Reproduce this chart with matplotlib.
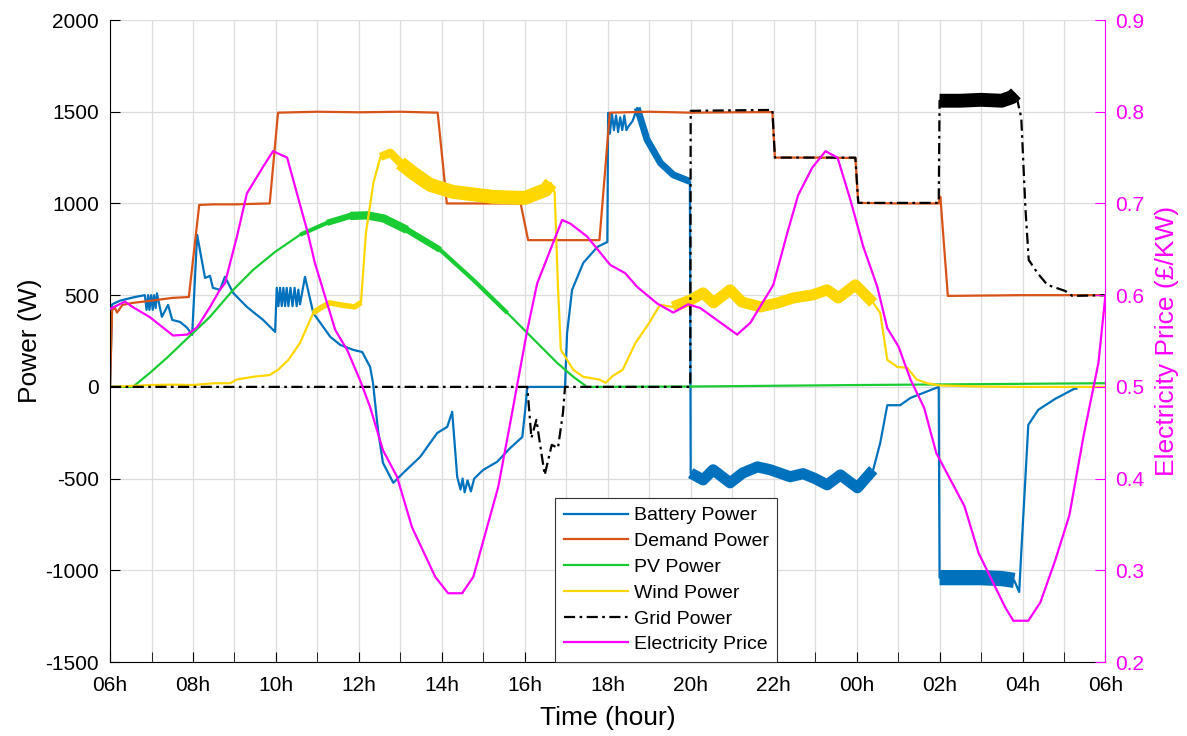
import numpy as np
import matplotlib.pyplot as plt

plt.rcParams['font.family'] = ['Liberation Sans', 'DejaVu Sans']
plt.rcParams['axes.unicode_minus'] = False

# time in hours from 06h (6) to 06h next day (30)
bat_t = [6.00, 6.05, 6.24, 6.60, 6.84, 6.88, 6.92, 6.95, 6.99, 7.03, 7.06, 7.10, 7.13,
         7.25, 7.40, 7.50, 7.69, 7.86, 7.98, 8.10, 8.29, 8.41, 8.48, 8.65, 8.77, 8.97,
         9.30, 9.69, 9.98, 10.02, 10.06, 10.10, 10.14, 10.18, 10.22, 10.26, 10.30, 10.35,
         10.40, 10.45, 10.50, 10.54, 10.58, 10.70, 10.90, 11.07, 11.31, 11.55, 11.86,
         12.08, 12.27, 12.34, 12.46, 12.58, 12.83, 13.07, 13.48, 13.89, 14.13, 14.25,
         14.37, 14.45, 14.50, 14.55, 14.62, 14.70, 14.78, 15.00, 15.33, 15.65, 15.94,
         16.01, 16.06, 16.97, 17.02, 17.14, 17.41, 17.75, 17.99, 18.01, 18.05, 18.10,
         18.15, 18.20, 18.25, 18.30, 18.35, 18.40, 18.45, 18.50, 18.60, 18.71, 18.95,
         19.27, 19.58, 19.98, 20.00, 20.30, 20.54, 20.95, 21.25, 21.61, 21.92, 22.40,
         22.71, 23.00, 23.29, 23.61, 24.02, 24.40, 24.57, 24.74, 25.05, 25.30, 25.87,
         25.98, 26.00, 26.50, 27.00, 27.50, 27.80, 27.92, 27.97, 28.14, 28.38, 28.79,
         29.25, 29.30]
bat_w = [0, 450, 470, 490, 500, 420, 500, 420, 500, 420, 500, 430, 510,
         382, 447, 365, 354, 322, 284, 829, 594, 605, 540, 529, 600, 512,
         436, 365, 300, 540, 440, 540, 440, 540, 440, 540, 440, 540,
         440, 540, 440, 530, 450, 600, 403, 349, 273, 229, 202,
         190, 109, 22, -234, -414, -523, -469, -381, -251, -218, -136,
         -490, -560, -500, -575, -510, -570, -500, -452, -409, -333, -273,
         -125, 0, 0, 294, 529, 676, 763, 790, 1494, 1380, 1490,
         1400, 1480, 1390, 1470, 1400, 1480, 1400, 1420, 1450, 1521, 1347,
         1221, 1156, 1120, -470, -507, -452, -523, -470, -436, -452, -490,
         -473, -500, -534, -480, -550, -452, -305, -100, -100, -60, -10,
         0, -1040, -1040, -1040, -1045, -1055, -1118, -905, -207, -125, -65,
         -10, -10]

dem_t = [6.00, 6.05, 6.12, 6.17, 6.30, 6.55, 7.00, 7.50, 7.90, 8.15, 8.50, 9.00, 9.50,
         9.85, 10.05, 11.0, 12.0, 13.0, 13.90, 14.12, 15.0, 15.90, 16.08, 17.0, 17.80,
         18.05, 19.0, 20.0, 21.0, 21.97, 22.03, 23.0, 23.97, 24.04, 25.0, 25.98, 26.02,
         26.20, 28.0, 30.0]
dem_w = [0, 420, 430, 405, 447, 458, 470, 485, 490, 992, 995, 995, 998,
         1000, 1495, 1500, 1497, 1500, 1495, 1000, 1000, 1000, 800, 800, 800,
         1495, 1500, 1495, 1497, 1498, 1250, 1250, 1248, 1003, 1000, 1000, 1036,
         496, 500, 500]

pv_t = [6.00, 6.55, 6.96, 7.37, 8.00, 8.41, 8.97, 9.45, 9.98, 10.58, 11.23, 11.79, 12.20,
        12.60, 13.16, 13.96, 14.76, 15.58, 16.06, 16.78, 17.17, 17.50, 20.0, 24.0, 30.0]
pv_w = [0, 0, 76, 158, 294, 382, 529, 638, 736, 829, 894, 932, 935,
        918, 856, 747, 583, 403, 294, 131, 55, 0, 2, 10, 20]

wind_t = [6.0, 6.5, 7.0, 7.5, 8.0, 8.5, 8.9, 9.05, 9.45, 9.85, 10.05, 10.30, 10.58, 10.90,
          11.07, 11.30, 11.55, 11.90, 12.05, 12.17, 12.35, 12.52, 12.76, 13.0, 13.30,
          13.72, 14.27, 15.23, 16.0, 16.50, 16.63, 16.72, 16.80, 16.87, 17.17, 17.41,
          17.80, 17.95, 18.12, 18.36, 18.67, 19.0, 19.26, 19.57, 20.0, 20.30, 20.55,
          20.95, 21.23, 21.68, 22.10, 22.48, 22.95, 23.29, 23.56, 23.97, 24.40, 24.57,
          24.74, 24.98, 25.22, 25.45, 25.70, 26.0, 27.0, 28.0, 30.0]
wind_w = [0, 5, 10, 12, 10, 20, 20, 40, 55, 65, 93, 147, 240, 403,
          430, 458, 447, 436, 460, 840, 1112, 1254, 1276, 1221, 1167,
          1101, 1063, 1036, 1030, 1074, 1112, 1060, 545, 202, 93, 55,
          40, 22, 60, 93, 240, 349, 447, 436, 474, 512, 458,
          529, 463, 436, 458, 485, 502, 529, 485, 556, 458, 403,
          147, 109, 104, 40, 20, 8, 2, 0, 0]

grid_t = [6.0, 16.06, 16.16, 16.28, 16.48, 16.65, 16.80, 16.92, 16.97, 19.99, 20.00,
          21.97, 22.03, 23.97, 24.04, 25.98, 26.00, 26.50, 27.00, 27.50, 27.75, 27.84,
          27.97, 28.07, 28.15, 28.36, 28.60, 29.03, 29.20, 30.0]
grid_w = [0, 0, -278, -180, -480, -316, -333, -142, 0, 0, 1505,
          1510, 1250, 1250, 1003, 1003, 1560, 1560, 1565, 1560, 1580, 1600,
          1467, 976, 692, 621, 556, 523, 496, 500]

price_t = [6.00, 6.36, 6.55, 6.96, 7.52, 7.86, 8.10, 8.41, 8.65, 8.77, 9.06, 9.30, 9.69,
           9.93, 10.27, 10.53, 10.75, 10.94, 11.43, 11.72, 12.03, 12.27, 12.58, 12.92,
           13.28, 13.84, 14.15, 14.49, 14.76, 15.36, 15.65, 16.06, 16.30, 16.90, 17.10,
           17.50, 18.06, 18.42, 18.71, 19.19, 19.58, 19.94, 20.23, 21.12, 21.44, 21.99,
           22.33, 22.59, 22.93, 23.25, 23.54, 23.85, 24.16, 24.50, 24.74, 25.01, 25.30,
           25.63, 25.92, 26.60, 26.94, 27.59, 27.78, 28.14, 28.43, 28.79, 29.13, 29.47,
           29.83, 30.0]
price = [0.585, 0.593, 0.587, 0.576, 0.556, 0.557, 0.565, 0.587, 0.606, 0.613, 0.664, 0.711,
         0.740, 0.757, 0.750, 0.707, 0.671, 0.635, 0.562, 0.540, 0.507, 0.478, 0.431, 0.402,
         0.347, 0.293, 0.275, 0.275, 0.293, 0.391, 0.461, 0.562, 0.613, 0.682, 0.678,
         0.664, 0.633, 0.624, 0.609, 0.591, 0.581, 0.590, 0.586, 0.557, 0.570, 0.611,
         0.668, 0.709, 0.739, 0.757, 0.750, 0.704, 0.653, 0.609, 0.564, 0.544, 0.508,
         0.477, 0.428, 0.370, 0.319, 0.259, 0.245, 0.245, 0.265, 0.311, 0.360, 0.446,
         0.526, 0.600]

c_bat, c_dem, c_pv, c_wind, c_grid, c_price = '#0072BD', '#D95319', '#1ACC33', '#FFD700', 'black', '#FF00FF'

fig = plt.figure(figsize=(11.87, 7.36), dpi=100)
ax = fig.add_axes([0.0927, 0.1005, 0.8386, 0.8723])


def band(t, v, t0, t1, color, lw):
    # thick segment where the signal ripples fast
    t = np.asarray(t)
    v = np.asarray(v)
    m = (t >= t0) & (t <= t1)
    ax.plot(t[m], v[m], color=color, lw=lw, solid_joinstyle='round', solid_capstyle='butt')


lw = 1.6
h_bat, = ax.plot(bat_t, bat_w, color=c_bat, lw=lw, label='Battery Power')
band(bat_t, bat_w, 18.7, 19.98, c_bat, 5)
band(bat_t, bat_w, 20.0, 24.4, c_bat, 8)
band(bat_t, bat_w, 26.0, 27.8, c_bat, 11)
h_dem, = ax.plot(dem_t, dem_w, color=c_dem, lw=lw, label='Demand Power')
h_pv, = ax.plot(pv_t, pv_w, color=c_pv, lw=lw, label='PV Power')
band(pv_t, pv_w, 10.5, 15.6, c_pv, 3)
band(pv_t, pv_w, 11.2, 14.0, c_pv, 4.5)
band(pv_t, pv_w, 11.7, 13.2, c_pv, 6)
h_wind, = ax.plot(wind_t, wind_w, color=c_wind, lw=lw, label='Wind Power')
band(wind_t, wind_w, 10.9, 12.05, c_wind, 4)
band(wind_t, wind_w, 12.5, 13.3, c_wind, 6)
band(wind_t, wind_w, 13.0, 16.63, c_wind, 10)
band(wind_t, wind_w, 19.5, 24.4, c_wind, 8)
h_grid, = ax.plot(grid_t, grid_w, color=c_grid, lw=lw, ls=(0, (5, 2, 1.2, 2)), label='Grid Power')
band(grid_t, grid_w, 26.0, 27.84, c_grid, 10)

ax.set_xlim(6, 30)
ax.set_ylim(-1500, 2000)
ax.set_xticks(np.arange(6, 31, 2))
ax.set_xticklabels([f'{h % 24:02d}h' for h in range(6, 31, 2)])
ax.set_xticks(np.arange(7, 30, 2), minor=True)
ax.set_yticks(np.arange(-1500, 2001, 500))
ax.tick_params(axis='both', which='both', direction='in', length=7, labelsize=15)
ax.tick_params(axis='x', which='both', pad=10)
ax.tick_params(axis='y', pad=8)
ax.grid(True, which='both', color='#dddddd', lw=0.9)
ax.set_axisbelow(True)
ax.spines['top'].set_visible(False)
ax.spines['right'].set_visible(False)
ax.set_xlabel('Time (hour)', fontsize=19, labelpad=8)
ax.set_ylabel('Power (W)', fontsize=19, labelpad=2)

ax2 = ax.twinx()
h_price, = ax2.plot(price_t, price, color=c_price, lw=lw, label='Electricity Price')
ax2.set_ylim(0.2, 0.9)
ax2.set_yticks(np.arange(0.2, 0.91, 0.1))
ax2.set_yticklabels([f'{v:.1f}' for v in np.arange(0.2, 0.91, 0.1)])
ax2.tick_params(axis='y', direction='in', length=7, labelsize=15, colors=c_price, pad=7)
ax2.spines['right'].set_color(c_price)
ax2.spines['top'].set_visible(False)
ax2.spines['left'].set_visible(False)
ax2.spines['bottom'].set_visible(False)
ax2.set_ylabel('Electricity Price (£/KW)', fontsize=19, color=c_price, labelpad=8)

leg = ax2.legend(handles=[h_bat, h_dem, h_pv, h_wind, h_grid, h_price],
                 loc='lower left', bbox_to_anchor=(0.447, 0.0), borderaxespad=0,
                 fontsize=14, handlelength=3.3, handletextpad=0.3, labelspacing=0.42,
                 fancybox=False, framealpha=1, edgecolor='#333333', borderpad=0.45)
leg.get_frame().set_linewidth(0.8)

fig.savefig('out.png', dpi=100)
